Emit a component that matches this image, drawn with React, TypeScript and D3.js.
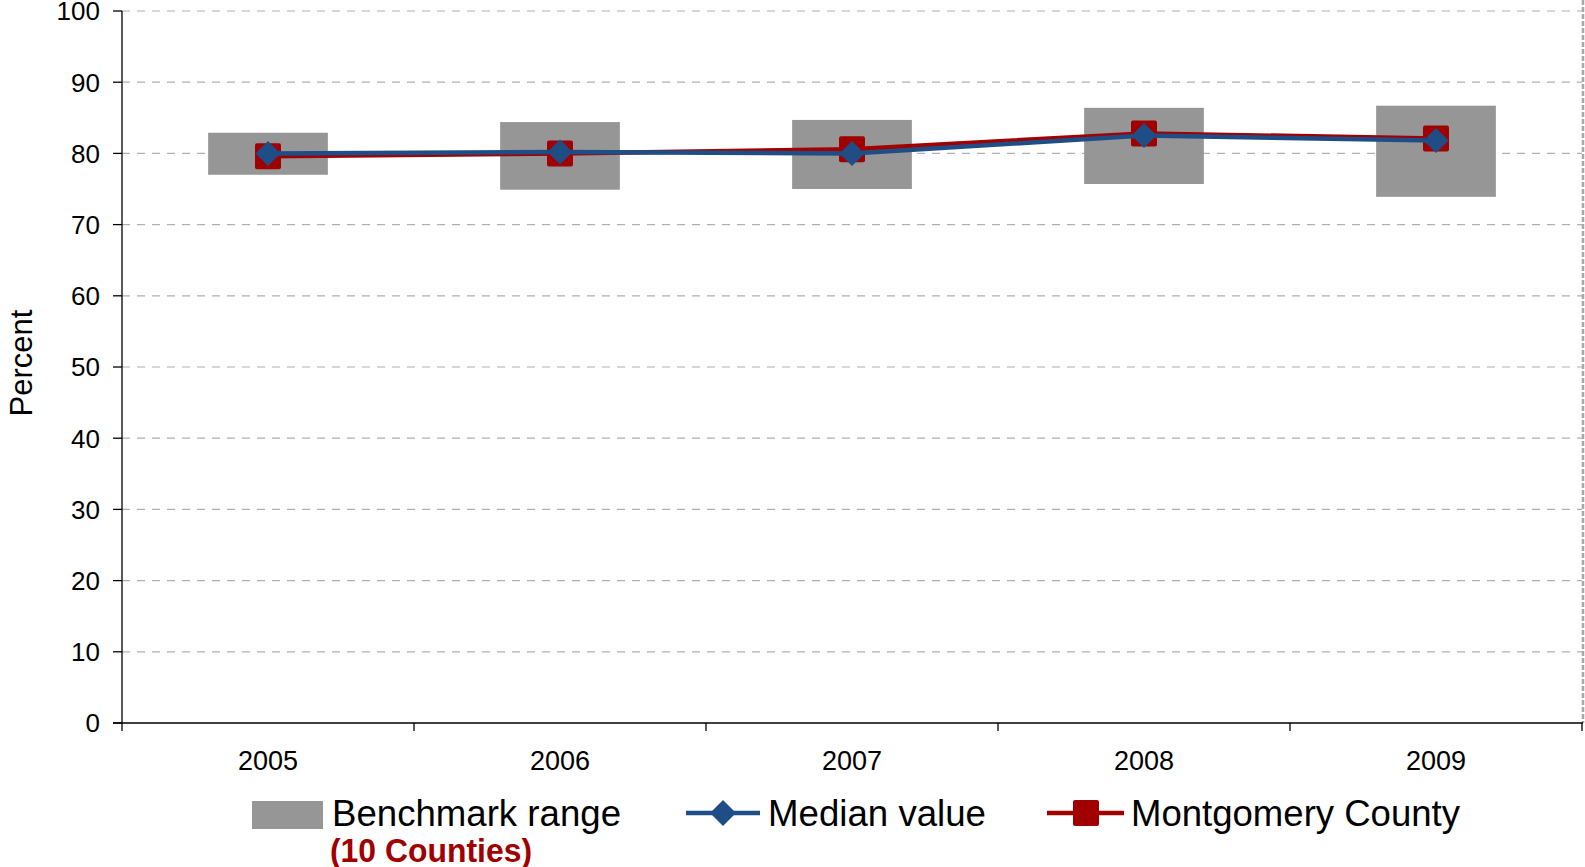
import React from "react";
import * as d3 from "d3";

const years = ["2005", "2006", "2007", "2008", "2009"];
const benchLow = [77.0, 74.9, 75.0, 75.7, 73.9];
const benchHigh = [82.9, 84.4, 84.7, 86.4, 86.7];
const median = [80.0, 80.2, 80.0, 82.5, 81.8];
const montgomery = [79.6, 80.0, 80.6, 82.8, 82.1];
const yTicks = [0, 10, 20, 30, 40, 50, 60, 70, 80, 90, 100];

const W = 1585;
const H = 867;
const M = { left: 122, right: 1582, top: 11, bottom: 723 };
const GRAY = "#969696";
const RED = "#a00000";
const BLUE = "#1f4e87";
const FONT = "Arial, 'Liberation Sans', Helvetica, sans-serif";

export default function App() {
  const x = d3.scaleBand<string>().domain(years).range([M.left, M.right]).paddingInner(0).paddingOuter(0);
  const y = d3.scaleLinear().domain([0, 100]).range([M.bottom, M.top]);
  const cx = (i: number) => (x(years[i]) as number) + x.bandwidth() / 2;
  const boxW = x.bandwidth() * 0.41;

  const line = d3
    .line<number>()
    .x((_, i) => cx(i))
    .y((v) => y(v));

  const bounds = years.map((yr) => x(yr) as number).concat([M.right]);

  const diamond = (px: number, py: number, r: number) =>
    `M${px},${py - r}L${px + r},${py}L${px},${py + r}L${px - r},${py}Z`;

  return (
    <svg width={W} height={H} style={{ position: "absolute", left: 0, top: 0, background: "#fff" }} fontFamily={FONT}>
      {/* grid lines */}
      {yTicks.filter((t) => t > 0).map((t) => (
        <line key={"g" + t} x1={M.left} x2={M.right} y1={y(t)} y2={y(t)} stroke="#b0b0b0" strokeWidth={1.2} strokeDasharray="8,7" />
      ))}
      {/* right dashed border */}
      <line x1={M.right + 1} x2={M.right + 1} y1={0} y2={M.bottom} stroke="#a8a8a8" strokeWidth={2.5} strokeDasharray="5,2" />
      {/* y axis */}
      <line x1={M.left} x2={M.left} y1={M.top} y2={M.bottom} stroke="#000" strokeWidth={1.3} />
      {yTicks.map((t) => (
        <g key={"yt" + t}>
          <line x1={M.left - 9} x2={M.left} y1={y(t)} y2={y(t)} stroke="#000" strokeWidth={1.3} />
          <text x={100} y={y(t)} dy="0.36em" textAnchor="end" fontSize={26} fill="#000">
            {t}
          </text>
        </g>
      ))}
      {/* x axis */}
      <line x1={M.left - 9} x2={M.right + 1} y1={M.bottom} y2={M.bottom} stroke="#000" strokeWidth={1.3} />
      {bounds.map((b, i) => (
        <line key={"xt" + i} x1={b} x2={b} y1={M.bottom} y2={M.bottom + 8} stroke="#000" strokeWidth={1.3} />
      ))}
      {years.map((yr, i) => (
        <text key={"xl" + yr} x={cx(i)} y={770} textAnchor="middle" fontSize={27} fill="#000">
          {yr}
        </text>
      ))}
      {/* y label */}
      <text transform={`translate(32,363) rotate(-90)`} textAnchor="middle" fontSize={31} fill="#000">
        Percent
      </text>
      {/* benchmark boxes */}
      {years.map((yr, i) => (
        <rect key={"b" + yr} x={cx(i) - boxW / 2} y={y(benchHigh[i])} width={boxW} height={y(benchLow[i]) - y(benchHigh[i])} fill={GRAY} />
      ))}
      {/* Montgomery line */}
      <path d={line(montgomery) as string} fill="none" stroke={RED} strokeWidth={4.5} />
      {montgomery.map((v, i) => (
        <rect key={"m" + i} x={cx(i) - 13} y={y(v) - 13} width={26} height={26} rx={2} fill={RED} />
      ))}
      {/* Median line */}
      <path d={line(median) as string} fill="none" stroke={BLUE} strokeWidth={4.5} />
      {median.map((v, i) => (
        <path key={"d" + i} d={diamond(cx(i), y(v), 12.5)} fill={BLUE} />
      ))}
      {/* legend */}
      <rect x={252} y={801} width={71} height={28} fill={GRAY} />
      <text x={332} y={826} fontSize={37} textLength={289} lengthAdjust="spacingAndGlyphs" fill="#000">
        Benchmark range
      </text>
      <text x={330} y={862} fontSize={34} fontWeight="bold" textLength={202} lengthAdjust="spacingAndGlyphs" fill={RED}>
        (10 Counties)
      </text>
      <line x1={686} x2={760} y1={813} y2={813} stroke={BLUE} strokeWidth={4.5} />
      <path d={diamond(723, 813, 13)} fill={BLUE} />
      <text x={768} y={826} fontSize={37} textLength={218} lengthAdjust="spacingAndGlyphs" fill="#000">
        Median value
      </text>
      <line x1={1047} x2={1124} y1={813} y2={813} stroke={RED} strokeWidth={4.5} />
      <rect x={1073} y={800} width={26} height={26} rx={2} fill={RED} />
      <text x={1131} y={826} fontSize={37} textLength={329} lengthAdjust="spacingAndGlyphs" fill="#000">
        Montgomery County
      </text>
    </svg>
  );
}
